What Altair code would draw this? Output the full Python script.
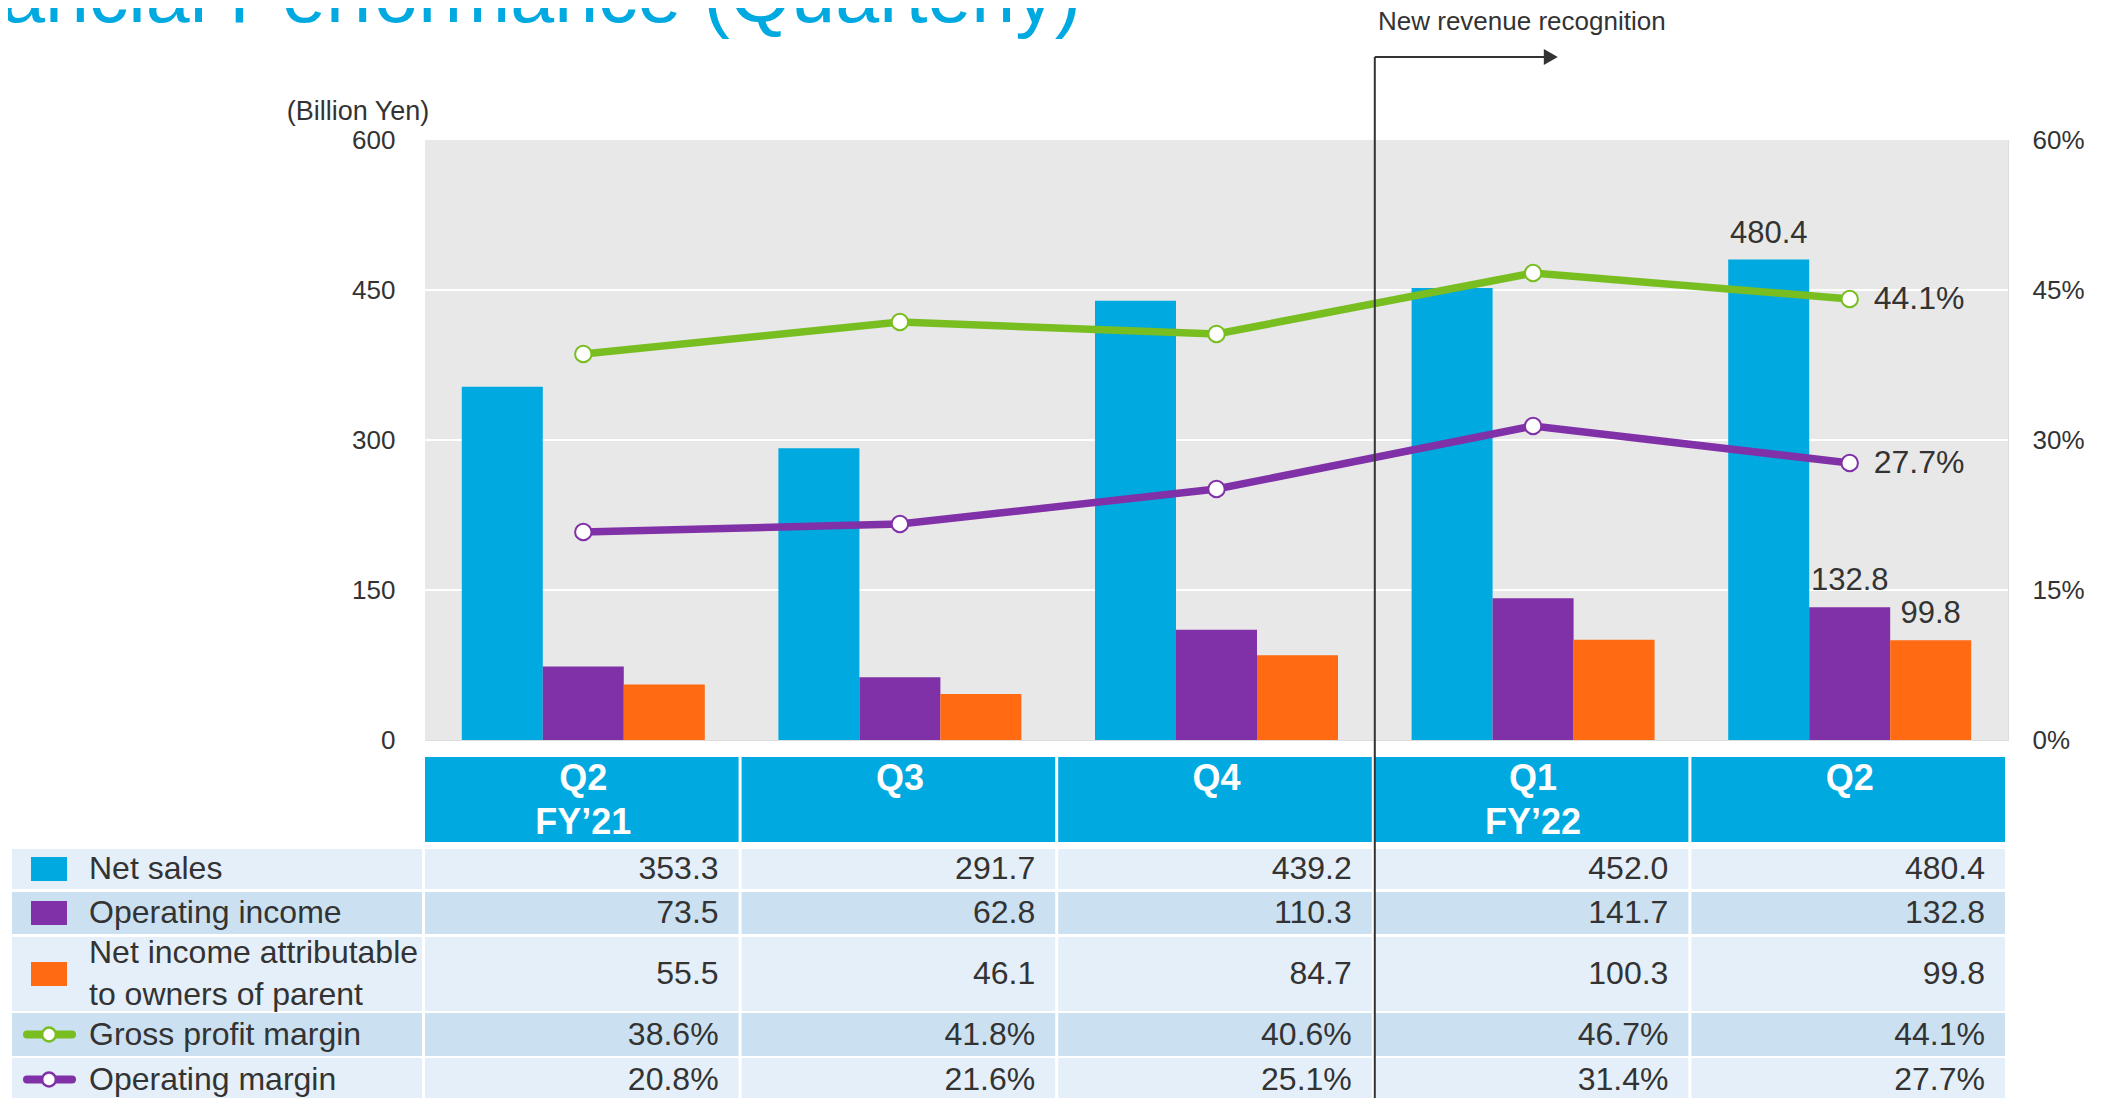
import altair as alt
import pandas as pd

# ---------------- data ----------------
quarters = ["Q2 FY'21", "Q3 FY'21", "Q4 FY'21", "Q1 FY'22", "Q2 FY'22"]
header_top = ["Q2", "Q3", "Q4", "Q1", "Q2"]
header_bottom = ["FY’21", "", "", "FY’22", ""]
net_sales = [353.3, 291.7, 439.2, 452.0, 480.4]
operating_income = [73.5, 62.8, 110.3, 141.7, 132.8]
net_income = [55.5, 46.1, 84.7, 100.3, 99.8]
gross_margin = [38.6, 41.8, 40.6, 46.7, 44.1]
operating_margin = [20.8, 21.6, 25.1, 31.4, 27.7]
bar_series = ["Net sales", "Operating income", "Net income attributable to owners of parent"]
line_series = ["Gross profit margin", "Operating margin"]
row_labels = [["Net sales"], ["Operating income"], ["Net income attributable", " to owners of parent"],
              ["Gross profit margin"], ["Operating margin"]]
y_ticks = [0, 150, 300, 450, 600]
y_grid = [150, 300, 450]
pct_ticks = [0, 15, 30, 45, 60]
title_text = "Financial Performance (Quarterly)"
unit_text = "(Billion Yen)"
note_text = "New revenue recognition"

# ---------------- style / layout ----------------
FONT = "Liberation Sans"
TXT = "#333333"
BLUE, PURPLE, ORANGE, GREEN = "#00A9E0", "#8031A7", "#FF6A13", "#78BE20"
PLOT_BG = "#E8E8E8"
bar_colors = [BLUE, PURPLE, ORANGE]
line_colors = [GREEN, PURPLE]
ROW_LIGHT, ROW_DARK = "#E4EFF9", "#CBE1F2"
W, H = 1583, 600
STEP = W / 5
header_box = (617, 702)
row_boxes = [(709, 749), (752, 794), (797, 871), (873, 916), (918, 961)]
row_fill = [ROW_LIGHT, ROW_DARK, ROW_LIGHT, ROW_DARK, ROW_LIGHT]
TABLE_FS = 32
HEADER_FS = 36

one = pd.DataFrame({"a": [0]})

# ---------------- chart: bars ----------------
bar_df = pd.DataFrame([
    {"quarter": q, "series": s, "value": v}
    for s, vals in zip(bar_series, [net_sales, operating_income, net_income])
    for q, v in zip(quarters, vals)
])
xband = alt.X("quarter:N", sort=quarters,
              scale=alt.Scale(paddingInner=0.2325, paddingOuter=0.11625), axis=None)
xoff = alt.XOffset("series:N", sort=bar_series, scale=alt.Scale(paddingInner=0, paddingOuter=0))
yleft = alt.Y("value:Q", scale=alt.Scale(domain=[0, 600], nice=False),
              axis=alt.Axis(values=y_ticks, title=None, labelFontSize=26, labelColor=TXT,
                            labelFont=FONT, labelPadding=30, ticks=False, tickSize=0,
                            domain=False, grid=False))
background = alt.Chart(one).mark_rect(color=PLOT_BG).encode(
    x=alt.value(0), x2=alt.value(W), y=alt.value(0), y2=alt.value(H))
grid = alt.Chart(pd.DataFrame({"value": y_grid})).mark_rule(color="white", strokeWidth=2).encode(
    y=alt.Y("value:Q"))
bars = alt.Chart(bar_df).mark_bar().encode(
    x=xband, xOffset=xoff, y=yleft,
    color=alt.Color("series:N", scale=alt.Scale(domain=bar_series, range=bar_colors), legend=None))
bar_labels = alt.Chart(bar_df).transform_filter(alt.datum.quarter == quarters[-1]).mark_text(
    baseline="alphabetic", dy=-17, fontSize=31, color=TXT, font=FONT).encode(
    x=xband, xOffset=xoff, y=alt.Y("value:Q"), text=alt.Text("value:Q", format=".1f"))
bar_layer = alt.layer(background, grid, bars, bar_labels)

# ---------------- chart: lines ----------------
line_df = pd.DataFrame([
    {"quarter": q, "series": s, "value": v, "label": f"{v:.1f}%"}
    for s, vals in zip(line_series, [gross_margin, operating_margin])
    for q, v in zip(quarters, vals)
])
xpt = alt.X("quarter:N", sort=quarters, scale=alt.Scale(type="point", padding=0.5), axis=None)
yright = alt.Y("value:Q", scale=alt.Scale(domain=[0, 60], nice=False),
               axis=alt.Axis(orient="right", values=pct_ticks, title=None, labelExpr="datum.value + '%'",
                             labelFontSize=26, labelColor=TXT, labelFont=FONT, labelPadding=24,
                             ticks=False, tickSize=0, domain=False, grid=False))
lines = alt.Chart(line_df).mark_line(strokeWidth=7.5).encode(
    x=xpt, y=yright,
    color=alt.Color("series:N", scale=alt.Scale(domain=line_series, range=line_colors), legend=None))
points = alt.Chart(line_df).mark_point(shape="circle", filled=True, fill="white", size=270,
                                       strokeWidth=2, opacity=1).encode(
    x=xpt, y=alt.Y("value:Q"),
    stroke=alt.Stroke("series:N", scale=alt.Scale(domain=line_series, range=line_colors), legend=None))
line_labels = alt.Chart(line_df).transform_filter(alt.datum.quarter == quarters[-1]).mark_text(
    align="left", baseline="middle", dx=24, fontSize=32, color=TXT, font=FONT).encode(
    x=xpt, y=alt.Y("value:Q"), text="label:N")
line_layer = alt.layer(lines, points, line_labels)

# ---------------- table ----------------
hdr = pd.DataFrame({
    "x0": [i * STEP for i in range(5)], "x1": [(i + 1) * STEP - 3 for i in range(5)],
    "xc": [(i + 0.5) * STEP for i in range(5)],
    "y0": [header_box[0]] * 5, "y1": [header_box[1]] * 5,
    "top": header_top, "bottom": header_bottom,
})
hdr_rect = alt.Chart(hdr).mark_rect(color=BLUE).encode(
    x=alt.X("x0:Q", scale=None), x2="x1:Q", y=alt.Y("y0:Q", scale=None), y2="y1:Q")
hdr_t1 = alt.Chart(hdr).mark_text(fontSize=HEADER_FS, fontWeight="bold", color="white", font=FONT,
                                  baseline="middle").encode(
    x=alt.X("xc:Q", scale=None), y=alt.value(639), text="top:N")
hdr_t2 = alt.Chart(hdr).mark_text(fontSize=HEADER_FS, fontWeight="bold", color="white", font=FONT,
                                  baseline="middle").encode(
    x=alt.X("xc:Q", scale=None), y=alt.value(683), text="bottom:N")

value_rows = [
    [f"{v:.1f}" for v in net_sales],
    [f"{v:.1f}" for v in operating_income],
    [f"{v:.1f}" for v in net_income],
    [f"{v:.1f}%" for v in gross_margin],
    [f"{v:.1f}%" for v in operating_margin],
]
cells = pd.DataFrame([
    {"x0": c * STEP, "x1": (c + 1) * STEP - 3, "xr": (c + 1) * STEP - 23,
     "y0": row_boxes[r][0], "y1": row_boxes[r][1], "yc": (row_boxes[r][0] + row_boxes[r][1]) / 2,
     "bg": row_fill[r], "txt": value_rows[r][c]}
    for r in range(5) for c in range(5)
] + [
    {"x0": -413, "x1": -3, "xr": 0, "y0": row_boxes[r][0], "y1": row_boxes[r][1],
     "yc": 0, "bg": row_fill[r], "txt": ""}
    for r in range(5)
])
cell_rect = alt.Chart(cells).mark_rect().encode(
    x=alt.X("x0:Q", scale=None), x2="x1:Q", y=alt.Y("y0:Q", scale=None), y2="y1:Q",
    fill=alt.Fill("bg:N", scale=None))
cell_text = alt.Chart(cells).transform_filter("datum.txt != ''").mark_text(
    align="right", baseline="middle", fontSize=TABLE_FS, color=TXT, font=FONT).encode(
    x=alt.X("xr:Q", scale=None), y=alt.Y("yc:Q", scale=None), text="txt:N")

lab_rows = []
for r, lines_txt in enumerate(row_labels):
    y0, y1 = row_boxes[r]
    yc = (y0 + y1) / 2
    if len(lines_txt) == 1:
        lab_rows.append({"t": lines_txt[0], "y": yc})
    else:
        lab_rows.append({"t": lines_txt[0], "y": yc - 21.5})
        lab_rows.append({"t": lines_txt[1], "y": yc + 21})
lab_df = pd.DataFrame(lab_rows)
lab_text = alt.Chart(lab_df).mark_text(align="left", baseline="middle", fontSize=TABLE_FS, color=TXT,
                                       font=FONT).encode(
    x=alt.value(-336), y=alt.Y("y:Q", scale=None), text="t:N")

sw_df = pd.DataFrame({"series": bar_series,
                      "yc": [(row_boxes[i][0] + row_boxes[i][1]) / 2 for i in range(3)]})
sw_df["y0"] = sw_df["yc"] - 12
sw_df["y1"] = sw_df["yc"] + 12
swatch = alt.Chart(sw_df).mark_rect().encode(
    x=alt.value(-394), x2=alt.value(-358), y=alt.Y("y0:Q", scale=None), y2="y1:Q",
    fill=alt.Fill("series:N", scale=alt.Scale(domain=bar_series, range=bar_colors), legend=None))
li_df = pd.DataFrame({"series": line_series,
                      "yc": [(row_boxes[i][0] + row_boxes[i][1]) / 2 for i in (3, 4)]})
li_rule = alt.Chart(li_df).mark_rule(strokeWidth=8, strokeCap="round").encode(
    x=alt.value(-398), x2=alt.value(-353), y=alt.Y("yc:Q", scale=None),
    stroke=alt.Stroke("series:N", scale=alt.Scale(domain=line_series, range=line_colors), legend=None))
li_pt = alt.Chart(li_df).mark_point(shape="circle", filled=True, fill="white", size=190,
                                    strokeWidth=2.5, opacity=1).encode(
    x=alt.value(-376), y=alt.Y("yc:Q", scale=None),
    stroke=alt.Stroke("series:N", scale=alt.Scale(domain=line_series, range=line_colors), legend=None))

# ---------------- annotations ----------------
title = alt.Chart(pd.DataFrame({"t": [title_text]})).mark_text(
    align="right", baseline="alphabetic", fontSize=79, color=BLUE, font=FONT).encode(
    x=alt.value(656), y=alt.value(-118), text="t:N")
unit = alt.Chart(pd.DataFrame({"t": [unit_text]})).mark_text(
    align="center", baseline="middle", fontSize=27, color=TXT, font=FONT).encode(
    x=alt.value(-67), y=alt.value(-28), text="t:N")
vline = alt.Chart(one).mark_rule(color=TXT, strokeWidth=2).encode(
    x=alt.value(3 * STEP), y=alt.value(-83), y2=alt.value(1000))
hline = alt.Chart(one).mark_rule(color=TXT, strokeWidth=2).encode(
    x=alt.value(3 * STEP), x2=alt.value(3 * STEP + 172), y=alt.value(-83))
arrow = alt.Chart(one).mark_point(shape="triangle-right", filled=True, color=TXT, size=260,
                                  opacity=1).encode(
    x=alt.value(3 * STEP + 176), y=alt.value(-83))
note = alt.Chart(pd.DataFrame({"t": [note_text]})).mark_text(
    align="left", baseline="middle", fontSize=26, color=TXT, font=FONT).encode(
    x=alt.value(953), y=alt.value(-118), text="t:N")

chart = alt.layer(
    bar_layer, line_layer,
    hdr_rect, hdr_t1, hdr_t2, cell_rect, cell_text, lab_text, swatch, li_rule, li_pt,
    title, unit, vline, hline, arrow, note,
).resolve_scale(
    x="independent", y="independent", color="independent", stroke="independent", fill="independent"
).properties(
    width=W, height=H,
    padding={"left": 417, "top": 132, "right": 90, "bottom": 362},
    autosize=alt.AutoSizeParams(type="none"),
).configure_view(strokeWidth=0).configure(font=FONT)

chart.save("out.html", embed_options={"renderer": "svg", "actions": False})
